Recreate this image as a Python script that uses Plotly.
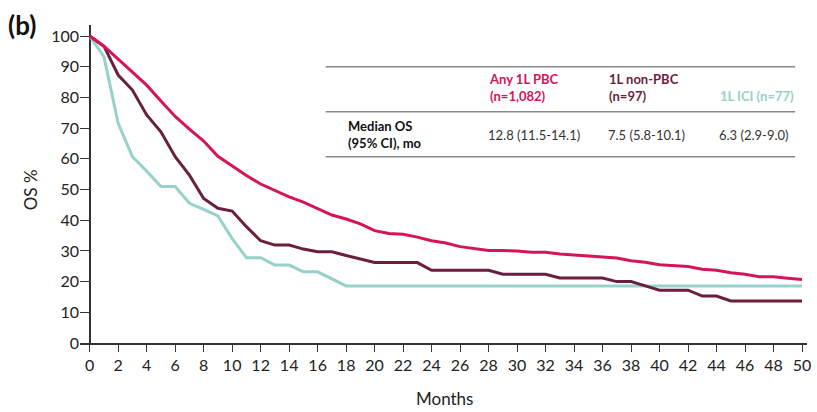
import plotly.graph_objects as go

# ---------------- data ----------------
months = list(range(0, 51))

os_any_pbc = [100, 96.7, 92.5, 88.4, 84.0, 78.8, 73.8, 69.7, 65.8, 60.8,
              57.6, 54.6, 51.8, 49.7, 47.6, 45.9, 43.8, 41.7, 40.4, 38.8,
              36.6, 35.7, 35.4, 34.5, 33.3, 32.6, 31.4, 30.8, 30.1, 30.1,
              30.0, 29.6, 29.6, 29.0, 28.7, 28.3, 28.0, 27.7, 26.8, 26.3,
              25.5, 25.2, 24.9, 24.0, 23.7, 22.9, 22.4, 21.6, 21.6, 21.1,
              20.7]

os_non_pbc = [100, 96.7, 87.3, 82.4, 74.3, 68.8, 60.7, 54.7, 47.1, 43.9,
              43.0, 37.9, 33.3, 31.9, 31.9, 30.6, 29.7, 29.7, 28.5, 27.3,
              26.2, 26.2, 26.2, 26.2, 23.7, 23.7, 23.7, 23.7, 23.7, 22.4,
              22.4, 22.4, 22.4, 21.2, 21.2, 21.2, 21.2, 20.0, 20.0, 18.6,
              17.2, 17.2, 17.2, 15.3, 15.3, 13.7, 13.7, 13.7, 13.7, 13.7,
              13.7]

os_ici = [100, 93.3, 71.6, 60.7, 56.0, 51.0, 51.0, 45.5, 43.5, 41.4,
          34.0, 27.8, 27.8, 25.4, 25.4, 23.2, 23.2, 20.9, 18.6, 18.6,
          18.6, 18.6, 18.6, 18.6, 18.6, 18.6, 18.6, 18.6, 18.6, 18.6,
          18.6, 18.6, 18.6, 18.6, 18.6, 18.6, 18.6, 18.6, 18.6, 18.6,
          18.6, 18.6, 18.6, 18.6, 18.6, 18.6, 18.6, 18.6, 18.6, 18.6,
          18.6]

x_ticks = list(range(0, 51, 2))
y_ticks = list(range(0, 101, 10))

series_names = ["Any 1L PBC", "1L non-PBC", "1L ICI"]
series_n = ["(n=1,082)", "(n=97)", "(n=77)"]
median_os = ["12.8 (11.5-14.1)", "7.5 (5.8-10.1)", "6.3 (2.9-9.0)"]

# ---------------- style ----------------
PINK = "#D5145A"
MAROON = "#6A1F3F"
TEAL = "#97D1CB"
FONT = "Lato"

W, H = 817, 412
ML, MR, MT, MB = 80, 6, 25, 69
PW, PH = W - ML - MR, H - MT - MB


def px(x):
    return (x - ML) / PW


def py(y):
    return (H - MB - y) / PH


fig = go.Figure()
for yv, col, name in [(os_ici, TEAL, series_names[2]),
                      (os_non_pbc, MAROON, series_names[1]),
                      (os_any_pbc, PINK, series_names[0])]:
    fig.add_trace(go.Scatter(x=months, y=yv, mode="lines", name=name,
                             line=dict(color=col, width=3), showlegend=False))

fig.update_layout(
    width=W, height=H,
    margin=dict(l=ML, r=MR, t=MT, b=MB),
    paper_bgcolor="white", plot_bgcolor="white",
    font=dict(family=FONT, color="#222", size=16),
    xaxis=dict(range=[-0.68, 50.35], tickvals=x_ticks, ticks="outside",
               ticklen=7, tickwidth=1.3, tickcolor="#333",
               showline=True, linecolor="#333", linewidth=1.5,
               showgrid=False, zeroline=True, zerolinecolor="#333",
               zerolinewidth=1.5, tickfont=dict(size=16, color="#222")),
    yaxis=dict(range=[0, 103.6], tickvals=y_ticks, ticks="inside",
               ticklen=9, tickwidth=1.3, tickcolor="#333",
               showline=False, showgrid=False, zeroline=False,
               tickfont=dict(size=16, color="#222")),
)

ann = []
ann.append(dict(text="Months", x=px(447), y=py(398), xref="paper", yref="paper",
                xanchor="center", yanchor="middle",
                showarrow=False, font=dict(size=17, color="#222")))
ann.append(dict(text="OS %", x=px(30), y=py(190), xref="paper", yref="paper",
                xanchor="center", yanchor="middle",
                showarrow=False, textangle=-90, font=dict(size=17, color="#222")))
ann.append(dict(text="<b>(b)</b>", x=px(6), y=py(25), xref="paper", yref="paper",
                xanchor="left", yanchor="middle", showarrow=False,
                font=dict(size=26, color="#111")))

# table
for yy in [66.7, 111.7, 156.7]:
    fig.add_shape(type="line", xref="paper", yref="paper",
                  x0=px(327), x1=px(799), y0=py(yy), y1=py(yy),
                  line=dict(color="#8a8a8a", width=1.5))

col_x = [489, 610, 722]
cols = [PINK, MAROON, TEAL]
for i in range(2):
    ann.append(dict(text=f"<b>{series_names[i]}<br>{series_n[i]}</b>",
                    x=px(col_x[i]), y=py(88), xref="paper", yref="paper",
                    xanchor="left", yanchor="middle", align="left",
                    showarrow=False, font=dict(size=13, color=cols[i])))
ann.append(dict(text=f"<b>{series_names[2]} {series_n[2]}</b>",
                x=px(col_x[2]), y=py(96), xref="paper", yref="paper",
                xanchor="left", yanchor="middle", align="left",
                showarrow=False, font=dict(size=13, color=cols[2])))
ann.append(dict(text="<b>Median OS<br>(95% CI), mo</b>",
                x=px(347), y=py(134), xref="paper", yref="paper",
                xanchor="left", yanchor="middle", align="left",
                showarrow=False, font=dict(size=13, color="#111")))
for i in range(3):
    ann.append(dict(text=median_os[i], x=px(col_x[i] - 1), y=py(135),
                    xref="paper", yref="paper", xanchor="left", yanchor="middle",
                    showarrow=False, font=dict(size=13, color="#333")))

fig.update_layout(annotations=ann)
fig.write_html("out.html")
